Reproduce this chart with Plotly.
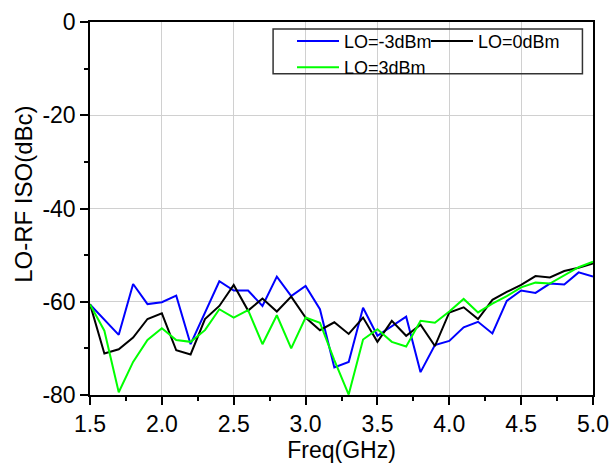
import plotly.graph_objects as go

freq = [1.5, 1.6, 1.7, 1.8, 1.9, 2.0, 2.1, 2.2, 2.3, 2.4, 2.5, 2.6, 2.7, 2.8, 2.9, 3.0,
        3.1, 3.2, 3.3, 3.4, 3.5, 3.6, 3.7, 3.8, 3.9, 4.0, 4.1, 4.2, 4.3, 4.4, 4.5, 4.6,
        4.7, 4.8, 4.9, 5.0]

lo_m3 = [-60.6, -63.9, -67.1, -56.2, -60.5, -60.1, -58.7, -69.1, -62.4, -55.6, -57.6, -57.6,
         -60.9, -54.6, -58.8, -56.6, -61.6, -74.1, -72.9, -61.3, -67.3, -65.2, -63.2, -75.1,
         -69.3, -68.4, -65.5, -64.3, -66.8, -59.8, -57.6, -58.1, -56.1, -56.3, -53.7, -54.6]

lo_0 = [-60.5, -71.1, -70.2, -67.7, -63.7, -62.5, -70.4, -71.3, -63.7, -60.9, -56.4, -61.9,
        -59.3, -62.1, -58.9, -63.4, -66.1, -64.4, -66.9, -63.4, -68.6, -64.1, -67.3, -64.9,
        -69.5, -62.3, -61.2, -63.7, -59.6, -57.9, -56.4, -54.5, -54.8, -53.4, -52.7, -51.8]

lo_3 = [-60.6, -66.2, -79.4, -72.9, -68.2, -65.7, -68.2, -68.6, -66.1, -61.6, -63.4, -61.8,
        -69.1, -62.9, -70.0, -63.4, -64.5, -72.5, -79.9, -68.1, -65.9, -68.6, -69.6, -64.1,
        -64.5, -62.1, -59.4, -62.3, -60.4, -58.8, -56.9, -55.9, -56.1, -54.3, -52.6, -51.4]

x_ticks = [1.5, 2.0, 2.5, 3.0, 3.5, 4.0, 4.5, 5.0]
x_labels = ["1.5", "2.0", "2.5", "3.0", "3.5", "4.0", "4.5", "5.0"]
y_ticks = [0, -20, -40, -60, -80]
y_labels = ["0", "-20", "-40", "-60", "-80"]

series = [
    ("LO=-3dBm", lo_m3, "#0000ff", "legend"),
    ("LO=0dBm", lo_0, "#000000", "legend2"),
    ("LO=3dBm", lo_3, "#00ff00", "legend"),
]

fig = go.Figure()
for name, vals, color, lg in series:
    fig.add_trace(go.Scatter(x=freq, y=vals, mode="lines", name=name,
                             legend=lg,
                             line=dict(color=color, width=2)))

font = "Arial, Liberation Sans, sans-serif"
axis_common = dict(
    showline=True, linecolor="black", linewidth=1.5, mirror=True,
    ticks="outside", ticklen=8, tickwidth=1.5, tickcolor="black",
    showgrid=True, gridcolor="#d0d0d0", gridwidth=1,
    zeroline=False, automargin=False,
    tickfont=dict(family=font, size=23, color="black"),
)

fig.update_xaxes(range=[1.5, 5.0], tickvals=x_ticks, ticktext=x_labels,
                 minor=dict(dtick=0.25, tick0=1.5, ticks="outside", ticklen=4,
                            tickcolor="black", tickwidth=1.5, showgrid=False),
                 title=dict(text="Freq(GHz)", font=dict(family=font, size=23, color="black"),
                            standoff=6),
                 **axis_common)
fig.update_yaxes(range=[-80, 0], tickvals=y_ticks, ticktext=y_labels,
                 minor=dict(dtick=10, tick0=0, ticks="outside", ticklen=4,
                            tickcolor="black", tickwidth=1.5, showgrid=False),
                 **axis_common)

fig.add_annotation(text="LO-RF ISO(dBc)", xref="paper", yref="paper",
                   x=-0.131, y=0.537, textangle=-90, showarrow=False,
                   xanchor="center", yanchor="middle",
                   font=dict(family=font, size=24, color="black"))

fig.add_shape(type="rect", xref="paper", yref="paper",
              x0=0.364, x1=0.979, y0=0.861, y1=0.981,
              line=dict(color="#333333", width=1.5), fillcolor="rgba(0,0,0,0)")

legend_common = dict(orientation="v", xanchor="left", yanchor="top",
                     bgcolor="rgba(0,0,0,0)", borderwidth=0, itemwidth=42,
                     tracegroupgap=0, itemclick=False, itemdoubleclick=False,
                     font=dict(family=font, size=18, color="black"))

fig.update_layout(
    width=611, height=465,
    margin=dict(l=90, r=18, t=22, b=70, autoexpand=False),
    plot_bgcolor="white", paper_bgcolor="white",
    showlegend=True,
    legend=dict(x=0.4016, y=0.998, **legend_common),
    legend2=dict(x=0.668, y=0.998, **legend_common),
)

fig.write_html("out.html")
